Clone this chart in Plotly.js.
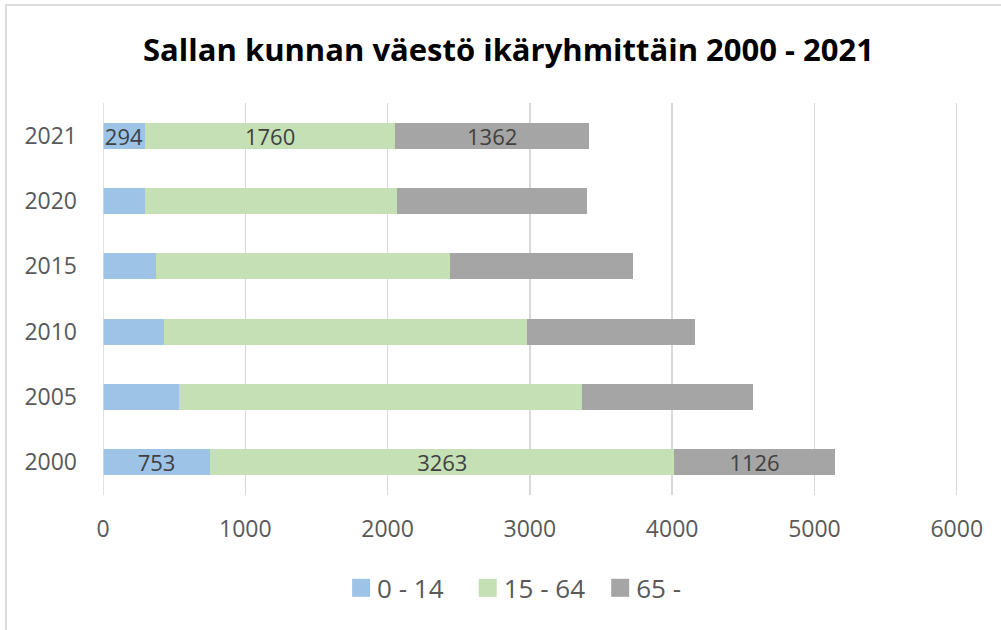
<!DOCTYPE html>
<html>
<head>
<meta charset="utf-8">
<script src="https://cdn.plot.ly/plotly-3.0.1.min.js"></script>
<style>
  body { margin: 0; background: #fff; }
  #graph { width: 1001px; height: 630px; }
  #frame {
    position: absolute; left: 5px; top: 4px; width: 996px; height: 626px;
    border-left: 2px solid #dcdcdc; border-top: 2px solid #dcdcdc;
    pointer-events: none;
  }
</style>
</head>
<body>
<div id="graph"></div>
<div id="frame"></div>
<script>
// vuodet alhaalta ylös
const years = ['2000', '2005', '2010', '2015', '2020', '2021'];
const age0_14  = [753, 533, 432, 369, 296, 294];
const age15_64 = [3263, 2831, 2550, 2072, 1771, 1760];
const age65    = [1126, 1202, 1176, 1281, 1335, 1362];
// arvot näkyvät vain ensimmäisessä ja viimeisessä vuodessa
const shownYears = ['2000', '2021'];

const names = ['0 - 14', '15 - 64', '65 -'];
const colors = ['#9dc3e6', '#c5e0b4', '#a5a5a5'];

function labels(vals) {
  return vals.map((v, i) => shownYears.includes(years[i]) ? String(v) : '');
}

const traces = [age0_14, age15_64, age65].map((vals, k) => ({
  type: 'bar',
  orientation: 'h',
  y: years,
  x: vals,
  name: names[k],
  marker: { color: colors[k], line: { width: 0 } },
  text: labels(vals),
  textposition: 'inside',
  insidetextanchor: 'middle',
  textangle: 0,
  constraintext: 'none',
  textfont: { family: 'Open Sans', size: 22, color: '#404040' },
  hoverinfo: 'x+name'
}));

const layout = {
  width: 1001,
  height: 630,
  barmode: 'stack',
  bargap: 0.6,
  margin: { l: 103, r: 40, t: 103, b: 135 },
  paper_bgcolor: '#fff',
  plot_bgcolor: '#fff',
  title: {
    text: '<b>Sallan kunnan väestö ikäryhmittäin 2000 - 2021</b>',
    font: { family: 'Open Sans', size: 31, color: '#000' },
    x: 0.508, xanchor: 'center',
    y: 0.92, yanchor: 'middle'
  },
  xaxis: {
    range: [0, 6030],
    dtick: 1000,
    showgrid: true,
    gridcolor: '#d9d9d9',
    gridwidth: 1.5,
    zeroline: false,
    showline: false,
    ticks: '',
    ticklabelstandoff: 18,
    tickfont: { family: 'Open Sans', size: 23, color: '#595959' }
  },
  yaxis: {
    type: 'category',
    showgrid: false,
    showline: false,
    zeroline: false,
    ticks: '',
    ticklabelstandoff: 25,
    tickfont: { family: 'Open Sans', size: 23, color: '#595959' }
  },
  shapes: [{
    type: 'line', xref: 'x', yref: 'paper',
    x0: 0, x1: 0, y0: 0, y1: 1,
    line: { color: '#d9d9d9', width: 1.5 }
  }],
  legend: {
    orientation: 'h',
    x: 0.464, xanchor: 'center',
    y: -0.237, yanchor: 'middle',
    font: { family: 'Open Sans', size: 26, color: '#595959' },
    itemwidth: 30,
    traceorder: 'normal'
  },
  showlegend: true
};

// selitteen kohtien lisäsiirrot (px), jotta väli vastaa alkuperäistä
const legendShift = [0, 15, 21];

Plotly.newPlot('graph', traces, layout, { displayModeBar: false, staticPlot: true }).then(gd => {
  gd.querySelectorAll('.legend [clip-path]').forEach(e => e.removeAttribute('clip-path'));
  gd.querySelectorAll('.legend .traces').forEach((g, i) => {
    const t = g.getAttribute('transform') || '';
    const m = t.match(/translate\(([-\d.]+)[ ,]+([-\d.]+)\)/);
    if (m) {
      g.setAttribute('transform', 'translate(' + (parseFloat(m[1]) + legendShift[i]) + ',' + m[2] + ')');
    }
  });
  // isommat neliöt selitteeseen
  gd.querySelectorAll('.legend .legendpoints path').forEach(p => {
    p.setAttribute('transform', (p.getAttribute('transform') || '') + ' translate(4,0) scale(1.5)');
  });
});
</script>
</body>
</html>
